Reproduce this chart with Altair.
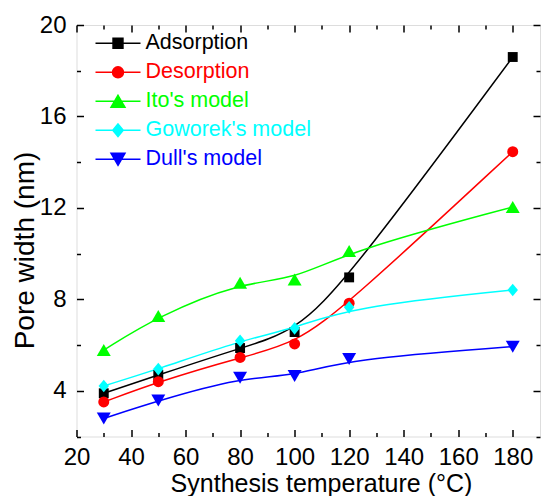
import json
import altair as alt
import pandas as pd

# ---- data ----
temps = [30, 50, 80, 100, 120, 180]
series_names = ["Adsorption", "Desorption", "Ito's model", "Goworek's model", "Dull's model"]
adsorption = [3.89, 4.69, 5.87, 6.57, 8.96, 18.6]
desorption = [3.51, 4.40, 5.46, 6.05, 7.83, 14.46]
ito = [5.78, 7.27, 8.73, 8.87, 10.11, 12.04]
goworek = [4.21, 4.95, 6.19, 6.73, 7.65, 8.41]
dull = [2.79, 3.57, 4.57, 4.65, 5.39, 5.93]
colors = ["#000000", "#ff0000", "#00ff00", "#00ffff", "#0000ff"]
x_ticks = list(range(20, 190, 10))
y_ticks = list(range(2, 22, 2))

rows = []
for name, vals in zip(series_names, [adsorption, desorption, ito, goworek, dull]):
    for t, v in zip(temps, vals):
        rows.append({"T": t, "W": v, "series": name})
df = pd.DataFrame(rows)

NARROW = "Liberation Sans Narrow, Arial Narrow, Liberation Sans, Arial, sans-serif"
REG = "Liberation Sans, Arial, sans-serif"

# marker shapes for the plot (unit paths scaled by sqrt(size)/2)
plot_shapes = [
    "M-0.9,-0.9H0.9V0.9H-0.9Z",
    "circle",
    "M0,-1.09L1.27,1.09L-1.27,1.09Z",
    "M0,-1.15L0.95,0L0,1.15L-0.95,0Z",
    "M0,1.09L1.27,-1.09L-1.27,-1.09Z",
]
# legend symbols: line segment plus marker
legend_shapes = [
    "M-1,0H1M-0.22,-0.22H0.22V0.22H-0.22Z",
    "M-1,0H1M0.244,0A0.244,0.244,0,1,1,-0.244,0A0.244,0.244,0,1,1,0.244,0Z",
    "M-1,0H1M0,-0.266L0.31,0.266L-0.31,0.266Z",
    "M-1,0H1M0,-0.28L0.232,0L0,0.28L-0.232,0Z",
    "M-1,0H1M0,0.266L0.31,-0.266L-0.31,-0.266Z",
]

label_color_expr = ""
for n, c in zip(series_names[:-1], colors[:-1]):
    label_color_expr += f"datum.value === {json.dumps(n)} ? {json.dumps(c)} : "
label_color_expr += json.dumps(colors[-1])

xscale = alt.Scale(domain=[20, 190], nice=False, zero=False)
yscale = alt.Scale(domain=[2, 20], nice=False, zero=False)
cscale = alt.Scale(domain=series_names, range=colors)

x_tick_expr = {"expr": "datum.value % 20 == 0 ? -7 : -4"}
y_tick_expr = {"expr": "datum.value % 4 == 0 ? -7 : -4"}

common_axis = dict(domain=False, grid=False, tickColor="black", tickWidth=1.5,
                   labelColor="black", labelFlush=False, labelOverlap=False)

x_bottom = alt.Axis(orient="bottom", values=x_ticks, tickSize=x_tick_expr,
                    labelExpr="datum.value % 20 == 0 ? datum.label : ''",
                    labelFont=NARROW, labelFontSize=24, labelPadding=16,
                    title="Synthesis temperature (°C)", titleFont=NARROW, titleFontSize=25,
                    titleFontWeight="normal", titleColor="black",
                    titleX=244.5, titleY=55, titleAlign="center", titleBaseline="alphabetic",
                    **common_axis)
y_left = alt.Axis(orient="left", values=y_ticks, tickSize=y_tick_expr,
                  labelExpr="datum.value % 4 == 0 ? datum.label : ''",
                  labelFont=NARROW, labelFontSize=24, labelPadding=17.5,
                  title="Pore width (nm)", titleFont=REG, titleFontSize=28,
                  titleFontWeight="normal", titleColor="black",
                  titleX=-43.5, titleY=225, titleAngle=270, titleAlign="center",
                  titleBaseline="alphabetic",
                  **common_axis)
x_top = alt.Axis(orient="top", values=x_ticks, tickSize=x_tick_expr, labels=False,
                 title=None, **common_axis)
y_right = alt.Axis(orient="right", values=y_ticks, tickSize=y_tick_expr, labels=False,
                   title=None, **common_axis)

base = alt.Chart(df)

lines = base.mark_line(interpolate="basis", strokeWidth=1.5).encode(
    x=alt.X("T:Q", scale=xscale, axis=x_bottom),
    y=alt.Y("W:Q", scale=yscale, axis=y_left),
    color=alt.Color("series:N", scale=cscale, legend=None),
)

points = base.mark_point(filled=True, size=121, opacity=1).encode(
    x=alt.X("T:Q", scale=xscale, axis=x_top),
    y=alt.Y("W:Q", scale=yscale, axis=y_right),
    color=alt.Color("series:N", scale=cscale, legend=None),
    shape=alt.Shape("series:N", scale=alt.Scale(domain=series_names, range=plot_shapes), legend=None),
)

leg = alt.Legend(title=None, orient="none", legendX=18, legendY=3.8, padding=0,
                 symbolSize=2025, symbolStrokeWidth=1.5, clipHeight=29, rowPadding=0,
                 labelOffset=4, labelFont=NARROW, labelFontSize=21.5, labelLimit=400,
                 labelColor={"expr": label_color_expr}, symbolOpacity=1)

legend_layer = base.mark_point(filled=True, size=2025, strokeWidth=1.5).encode(
    x=alt.X("T:Q", scale=xscale, axis=None),
    y=alt.Y("W:Q", scale=yscale, axis=None),
    color=alt.Color("series:N", scale=cscale, legend=leg),
    stroke=alt.Stroke("series:N", scale=cscale, legend=leg),
    shape=alt.Shape("series:N", scale=alt.Scale(domain=series_names, range=legend_shapes), legend=leg),
).transform_filter("false")

chart = alt.layer(lines, points, legend_layer).resolve_scale(
    color="independent", shape="independent", stroke="independent"
).resolve_axis(
    x="independent", y="independent"
).properties(
    width=463.5, height=411.5,
    autosize=alt.AutoSizeParams(type="none"),
    padding={"left": 76.5, "top": 25, "right": 3, "bottom": 59.5},
).configure_view(
    stroke="black", strokeWidth=2
).configure(background="white")

chart.save("out.html", embed_options={"renderer": "svg", "actions": False})
